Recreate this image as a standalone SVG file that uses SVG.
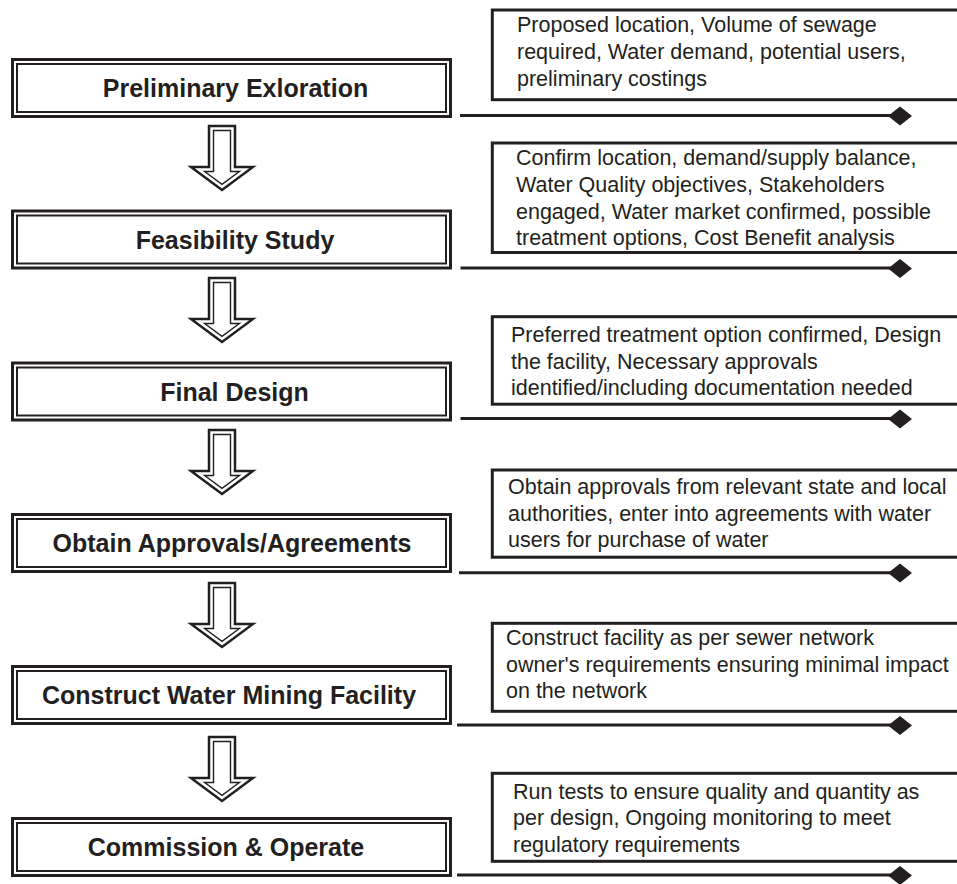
<svg xmlns="http://www.w3.org/2000/svg" width="957" height="884" viewBox="0 0 957 884">
<style>
.bg{fill:#ffffff}
.outer{fill:#ffffff;stroke:#231f20;stroke-width:3}
.inner{fill:none;stroke:#231f20;stroke-width:2}
.title{font-family:"Liberation Sans",Arial,sans-serif;font-weight:bold;font-size:25px;fill:#231f20;text-anchor:middle}
.note{fill:#ffffff;stroke:#231f20;stroke-width:3}
.ntext{font-family:"Liberation Sans",Arial,sans-serif;font-size:21.5px;fill:#231f20}
.arrowO{fill:#ffffff;stroke:#231f20;stroke-width:2.5;stroke-linejoin:miter}
.arrowI{fill:none;stroke:#231f20;stroke-width:1.4;stroke-linejoin:miter}
.conn{stroke:#231f20;stroke-width:3;fill:none}
.dia{fill:#231f20}
</style>
<rect class="bg" x="0" y="0" width="957" height="884"/>

<g id="step1">
<rect class="outer" x="12.5" y="59.5" width="438" height="57"/>
<rect class="inner" x="17" y="64" width="429" height="48"/>
<text class="title" x="235.5" y="97">Preliminary Exloration</text>
</g>
<g id="step2">
<rect class="outer" x="12.5" y="211" width="438" height="57"/>
<rect class="inner" x="17" y="215.5" width="429" height="48"/>
<text class="title" x="235" y="248.5">Feasibility Study</text>
</g>
<g id="step3">
<rect class="outer" x="12.5" y="363" width="438" height="57"/>
<rect class="inner" x="17" y="367.5" width="429" height="48"/>
<text class="title" x="234.5" y="400.5">Final Design</text>
</g>
<g id="step4">
<rect class="outer" x="12.5" y="514.5" width="438" height="57"/>
<rect class="inner" x="17" y="519" width="429" height="48"/>
<text class="title" x="232" y="552">Obtain Approvals/Agreements</text>
</g>
<g id="step5">
<rect class="outer" x="12.5" y="666.5" width="438" height="57"/>
<rect class="inner" x="17" y="671" width="429" height="48"/>
<text class="title" x="229" y="704">Construct Water Mining Facility</text>
</g>
<g id="step6">
<rect class="outer" x="12.5" y="818.5" width="438" height="57"/>
<rect class="inner" x="17" y="823" width="429" height="48"/>
<text class="title" x="226" y="856">Commission &amp; Operate</text>
</g>

<g id="note1">
<rect class="note" x="492.3" y="10" width="480" height="89.7"/>
<text class="ntext" x="517" y="31.5">Proposed location, Volume of sewage</text>
<text class="ntext" x="517" y="58.5">required, Water demand, potential users,</text>
<text class="ntext" x="517" y="85.5">preliminary costings</text>
</g>
<g id="note2">
<rect class="note" x="492.3" y="143" width="480" height="109.5"/>
<text class="ntext" x="516" y="164.5">Confirm location, demand/supply balance,</text>
<text class="ntext" x="516" y="191.5">Water Quality objectives, Stakeholders</text>
<text class="ntext" x="516" y="218.5">engaged, Water market confirmed, possible</text>
<text class="ntext" x="516" y="244.5">treatment options, Cost Benefit analysis</text>
</g>
<g id="note3">
<rect class="note" x="492.3" y="316.7" width="480" height="87.5"/>
<text class="ntext" x="511" y="341.5">Preferred treatment option confirmed, Design</text>
<text class="ntext" x="511" y="368.5">the facility, Necessary approvals</text>
<text class="ntext" x="511" y="394.5">identified/including documentation needed</text>
</g>
<g id="note4">
<rect class="note" x="492.3" y="470" width="480" height="87.2"/>
<text class="ntext" x="508" y="493.5">Obtain approvals from relevant state and local</text>
<text class="ntext" x="508" y="520.5">authorities, enter into agreements with water</text>
<text class="ntext" x="508" y="546.5">users for purchase of water</text>
</g>
<g id="note5">
<rect class="note" x="492.3" y="623.3" width="480" height="88"/>
<text class="ntext" x="506" y="644.5">Construct facility as per sewer network</text>
<text class="ntext" x="506" y="671.5">owner's requirements ensuring minimal impact</text>
<text class="ntext" x="506" y="697.5">on the network</text>
</g>
<g id="note6">
<rect class="note" x="492.3" y="773.3" width="480" height="88"/>
<text class="ntext" x="513" y="798.5">Run tests to ensure quality and quantity as</text>
<text class="ntext" x="513" y="824.5">per design, Ongoing monitoring to meet</text>
<text class="ntext" x="513" y="851.5">regulatory requirements</text>
</g>

<g id="connectors">
<line class="conn" x1="460" y1="115.5" x2="900" y2="115.5"/>
<polygon class="dia" points="888,116 900,106.5 912,116 900,125.5"/>
<line class="conn" x1="460.5" y1="268" x2="900" y2="268"/>
<polygon class="dia" points="888,268.5 900,259 912,268.5 900,278"/>
<line class="conn" x1="460.5" y1="418.5" x2="900" y2="418.5"/>
<polygon class="dia" points="888,419 900,409.5 912,419 900,428.5"/>
<line class="conn" x1="459" y1="572.7" x2="900" y2="572.7"/>
<polygon class="dia" points="888,573 900,563.5 912,573 900,582.5"/>
<line class="conn" x1="457" y1="725" x2="900" y2="725"/>
<polygon class="dia" points="888,725.5 900,716 912,725.5 900,735"/>
<line class="conn" x1="457" y1="875" x2="900" y2="875"/>
<polygon class="dia" points="888,875.5 900,866 912,875.5 900,885"/>

<g id="arrow1" transform="translate(0,126)">
<path class="arrowO" d="M209,0 H235 V41 H253 L222,64 L191,41 H209 Z"/>
<path class="arrowI" d="M213.5,4.5 H230.5 V45.5 H239.4 L222,58.4 L204.6,45.5 H213.5 Z"/>
</g>
<g id="arrow2" transform="translate(0,278)">
<path class="arrowO" d="M209,0 H235 V41 H253 L222,64 L191,41 H209 Z"/>
<path class="arrowI" d="M213.5,4.5 H230.5 V45.5 H239.4 L222,58.4 L204.6,45.5 H213.5 Z"/>
</g>
<g id="arrow3" transform="translate(0,430)">
<path class="arrowO" d="M209,0 H235 V41 H253 L222,64 L191,41 H209 Z"/>
<path class="arrowI" d="M213.5,4.5 H230.5 V45.5 H239.4 L222,58.4 L204.6,45.5 H213.5 Z"/>
</g>
<g id="arrow4" transform="translate(0,583)">
<path class="arrowO" d="M209,0 H235 V41 H253 L222,64 L191,41 H209 Z"/>
<path class="arrowI" d="M213.5,4.5 H230.5 V45.5 H239.4 L222,58.4 L204.6,45.5 H213.5 Z"/>
</g>
<g id="arrow5" transform="translate(0,737)">
<path class="arrowO" d="M209,0 H235 V41 H253 L222,64 L191,41 H209 Z"/>
<path class="arrowI" d="M213.5,4.5 H230.5 V45.5 H239.4 L222,58.4 L204.6,45.5 H213.5 Z"/>
</g>
</g>
</svg>
